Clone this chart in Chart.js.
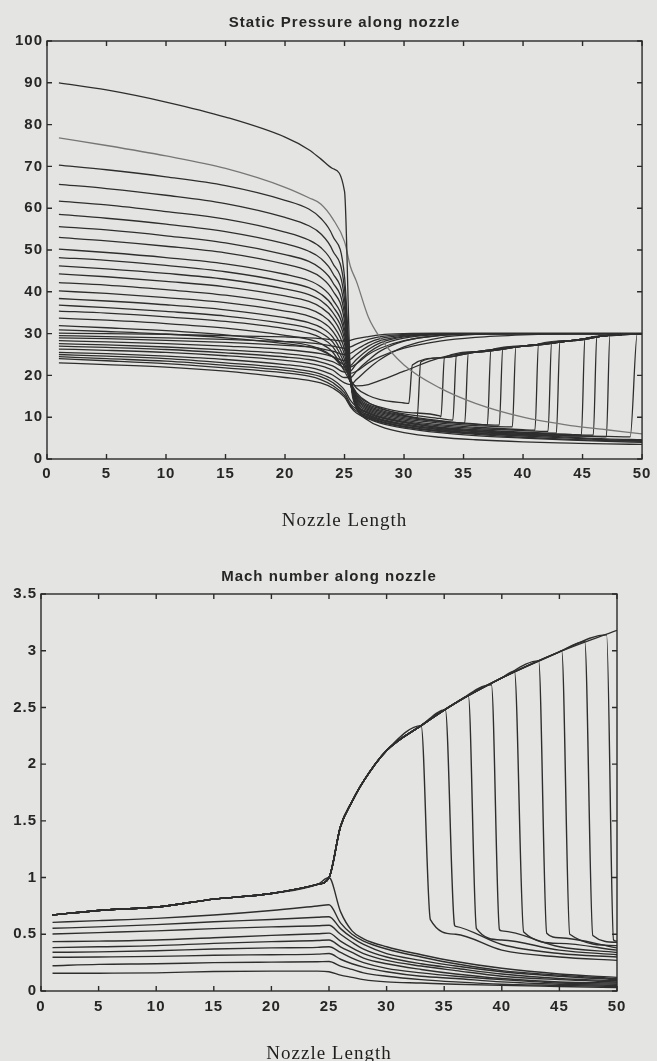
<!DOCTYPE html>
<html>
<head>
<meta charset="utf-8">
<script src="https://cdn.jsdelivr.net/npm/chart.js@4.4.1/dist/chart.umd.min.js"></script>
<style>
html, body { margin: 0; padding: 0; background: #e4e4e2; }
#wrap { position: relative; width: 657px; height: 1061px; overflow: hidden; }
canvas { position: absolute; left: 0; }
</style>
</head>
<body>
<div id="wrap">
	<canvas id="pressureCanvas" width="657" height="540" style="top:0;width:657px;height:540px"></canvas>
	<canvas id="machCanvas" width="657" height="521" style="top:540px;width:657px;height:521px"></canvas>
</div>
<script>
// ---- static pressure chart ----
var pressureX = [1, 5, 10, 15, 20, 22, 23, 24, 25, 25.5, 26, 27, 28, 30, 33, 36, 40, 44, 47, 50];

var p90   = [90, 88.3, 85.4, 81.8, 77, 74, 71.8, 69.5, 64, 20, 12.5, 9.2, 7.8, 6.3, 5.2, 4.6, 4.1, 3.8, 3.6, 3.5];
var p77   = [76.8, 75, 72.5, 69.5, 65, 62.5, 61, 57.5, 52, 46, 42.5, 34, 29, 22.5, 17, 13.3, 10, 8, 7, 6];
var p33_7 = [33.7, 33.2, 32.4, 31.3, 29.6, 28.6, 27.6, 25.6, 21, 18.5, 17.5, 17.8, 18.8, 21, 24.2, 25.6, 27, 28.3, 29.5, 30];
var p31_9 = [31.9, 31.4, 30.7, 29.7, 28.1, 27.2, 26.3, 24.5, 21.5, 20.5, 21, 23, 24.5, 26.5, 28.2, 29.1, 29.7, 30, 30, 30];
var p30_9 = [30.9, 30.5, 29.9, 29, 27.6, 26.8, 26, 24.5, 22.5, 22, 22.8, 25, 26.5, 28.3, 29.5, 29.9, 30, 30, 30, 30];
var p30_1 = [30.1, 30, 29.8, 29.5, 29.2, 29, 28.8, 28.5, 28.2, 28.4, 28.8, 29.3, 29.7, 30, 30.1, 30.1, 30.1, 30.1, 30.1, 30.1];
var p29_5 = [29.5, 29.3, 29, 28.6, 28.1, 27.8, 27.5, 27, 26.5, 26.8, 27.5, 28.6, 29.3, 29.8, 30, 30, 30, 30, 30, 30];
var p29   = [29, 28.8, 28.4, 27.9, 27.2, 26.8, 26.4, 25.8, 25, 25.3, 26.2, 27.8, 28.8, 29.6, 30, 30, 30, 30, 30, 30];
var p28_3 = [28.3, 28, 27.6, 27, 26.2, 25.6, 25.2, 24.5, 23.5, 23.8, 25, 27, 28.3, 29.4, 29.9, 30, 30, 30, 30, 30];
var p27_6 = [27.6, 27.3, 26.8, 26.1, 25.2, 24.6, 24.1, 23.3, 22, 22.3, 23.8, 26.2, 27.8, 29.2, 29.9, 30, 30, 30, 30, 30];
var p27   = [27, 26.7, 26.2, 25.4, 24.4, 23.8, 23.2, 22.3, 20.8, 21, 22.8, 25.4, 27.2, 28.9, 29.8, 30, 30, 30, 30, 30];
var p26_3 = [26.3, 26, 25.5, 24.7, 23.6, 22.9, 22.3, 21.3, 19.5, 19.5, 21, 23.6, 25.8, 28.2, 29.6, 30, 30, 30, 30, 30];
var p25_5 = [25.5, 25.2, 24.6, 23.8, 22.6, 21.9, 21.2, 20.1, 18.2, 17.8, 19, 21.6, 23.8, 26.8, 29, 29.8, 30, 30, 30, 30];
var p25   = [25, 24.6, 24, 23, 21.8, 21, 20.3, 19, 16.5, 14, 12.5, 11, 10, 8.8, 7.5, 6.6, 5.8, 5.2, 4.8, 4.6];
var p24_5 = [24.5, 24, 23.4, 22.4, 21.2, 20.4, 19.7, 18.3, 15.8, 13.2, 12, 10.4, 9.4, 8.2, 7, 6.2, 5.5, 5, 4.6, 4.4];
var p24   = [24, 23.5, 22.8, 21.8, 20.6, 19.8, 19, 17.6, 15.2, 12.8, 11.5, 10, 9, 7.8, 6.6, 5.9, 5.2, 4.7, 4.4, 4.2];
var p23   = [23, 22.6, 22, 21, 19.5, 18.8, 18.2, 17, 14.8, 12.5, 11, 9.6, 8.6, 7.4, 6.3, 5.6, 5, 4.5, 4.2, 4.0];

// curves that end in a shock: values before the shock run along the low branch, after it along the recovery branch
var pShockCurves = [
	[70.3, 69.2, 67.5, 65.4, 61.9, 59.8, 57.6, 53.4, 43.6, 20, 12, 9.8, 8.8, 7.6, 6.6, 6.1, 5.7, 5.5, 5.4, 30],
	[65.7, 64.7, 63.1, 61.1, 57.8, 55.8, 53.9, 49.9, 40.7, 19.5, 12.3, 10, 9, 7.8, 6.8, 6.3, 5.9, 5.6, null, 30],
	[61.7, 60.8, 59.2, 57.4, 54.3, 52.4, 50.6, 46.9, 38.3, 19, 12.6, 10.3, 9.3, 8.1, 7.1, 6.6, 6.1, 5.8, 29.5, 30],
	[58.5, 57.6, 56.2, 54.4, 51.5, 49.7, 48, 44.5, 36.3, 19, 12.9, 10.6, 9.6, 8.4, 7.3, 6.8, 6.2, 5.9, 29.5, 30],
	[55.6, 54.8, 53.4, 51.7, 48.9, 47.3, 45.6, 42.3, 34.5, 18.5, 13.2, 10.9, 9.9, 8.7, 7.6, 7.0, 6.4, 28.3, 29.5, 30],
	[53, 52.2, 50.9, 49.3, 46.6, 45, 43.5, 40.3, 32.9, 18.5, 13.5, 11.2, 10.2, 9.0, 7.9, 7.3, 6.8, 28.3, 29.5, 30],
	[50.2, 49.4, 48.2, 46.7, 44.2, 42.7, 41.2, 38.2, 31.1, 18.5, 13.8, 11.5, 10.5, 9.3, 8.2, 7.6, 7.0, 28.3, 29.5, 30],
	[48.2, 47.5, 46.3, 44.8, 42.4, 41, 39.5, 36.6, 29.9, 18.5, 14.1, 11.8, 10.8, 9.6, 8.6, 8.0, 27.0, 28.3, 29.5, 30],
	[46.2, 45.5, 44.4, 43, 40.7, 39.3, 37.9, 35.1, 28.6, 18.5, 14.4, 12.1, 11.1, 9.9, 8.9, 8.3, 27.0, 28.3, 29.5, 30],
	[44.3, 43.6, 42.5, 41.2, 39, 37.7, 36.3, 33.7, 27.5, 18.5, 14.7, 12.4, 11.4, 10.2, 9.0, 8.4, 27.0, 28.3, 29.5, 30],
	[42.2, 41.6, 40.5, 39.2, 37.1, 35.9, 34.6, 32.1, 26.2, 18.5, 15, 12.7, 11.7, 10.4, 9.2, 25.6, 27.0, 28.3, 29.5, 30],
	[40.2, 39.6, 38.6, 37.4, 35.4, 34.2, 33, 30.6, 25, 18.5, 15.3, 13, 12, 10.8, 9.7, 25.6, 27.0, 28.3, 29.5, 30],
	[38.4, 37.8, 36.9, 35.7, 33.8, 32.6, 31.5, 29.2, 23.8, 18.5, 15.6, 13.4, 12.4, 11.2, 10.3, 25.6, 27.0, 28.3, 29.5, 30],
	[36.8, 36.2, 35.3, 34.2, 32.4, 31.3, 30.2, 28, 22.8, 18.5, 15.9, 13.5, 12.2, 10.5, 24.2, 25.6, 27.0, 28.3, 29.5, 30],
	[35.4, 34.9, 34, 32.9, 31.2, 30.1, 29, 26.9, 22, 19, 17, 15.2, 14.2, 13.4, 24.2, 25.6, 27.0, 28.3, 29.5, 30]
];
var pShockLowX = [49.0, 47.0, 45.9, 44.9, 42.8, 42.1, 41.0, 39.1, 38.0, 37.0, 35.1, 34.1, 33.1, 31.1, 30.4];
var pShockLowY = [5.3, 5.3, 5.7, 5.7, 6.2, 6.6, 6.9, 7.7, 8.1, 8.1, 8.6, 9.3, 10.1, 9.8, 13.3];
var pShockTopX = [49.6, 47.3, 46.2, 45.2, 43.1, 42.4, 41.3, 39.4, 38.3, 37.3, 35.4, 34.4, 33.4, 31.4, 30.7];
var pShockTopY = [30.0, 29.6, 29.1, 28.7, 28.0, 27.8, 27.5, 26.9, 26.5, 26.1, 25.3, 24.8, 24.3, 23.2, 22.5];

// ---- mach number chart ----
var machX = [1, 5, 10, 15, 20, 24, 25, 26, 27, 28, 30, 33, 36, 40, 45, 50];

var mSupersonic = [0.67, 0.71, 0.74, 0.81, 0.86, 0.94, 1.0, 1.45, 1.67, 1.85, 2.12, 2.34, 2.54, 2.76, 2.99, 3.18];
var mChokedSub  = [0.67, 0.71, 0.74, 0.81, 0.86, 0.94, 1.0, 0.70, 0.53, 0.46, 0.39, 0.32, 0.26, 0.20, 0.15, 0.12];

var mSubsonic = [
	[0.605, 0.62, 0.64, 0.67, 0.71, 0.75, 0.76, 0.60, 0.50, 0.44, 0.37, 0.30, 0.24, 0.18, 0.14, 0.11],
	[0.553, 0.565, 0.585, 0.61, 0.63, 0.65, 0.655, 0.55, 0.47, 0.41, 0.33, 0.27, 0.22, 0.17, 0.13, 0.10],
	[0.503, 0.515, 0.53, 0.55, 0.565, 0.575, 0.58, 0.50, 0.43, 0.37, 0.30, 0.24, 0.20, 0.15, 0.11, 0.09],
	[0.435, 0.44, 0.45, 0.47, 0.49, 0.505, 0.51, 0.44, 0.38, 0.33, 0.27, 0.22, 0.18, 0.13, 0.10, 0.08],
	[0.382, 0.39, 0.40, 0.42, 0.435, 0.445, 0.45, 0.39, 0.34, 0.29, 0.24, 0.19, 0.15, 0.11, 0.08, 0.07],
	[0.341, 0.345, 0.355, 0.37, 0.38, 0.385, 0.39, 0.34, 0.29, 0.25, 0.20, 0.16, 0.13, 0.10, 0.07, 0.06],
	[0.297, 0.30, 0.305, 0.315, 0.32, 0.325, 0.33, 0.28, 0.24, 0.21, 0.17, 0.13, 0.11, 0.08, 0.06, 0.05],
	[0.223, 0.235, 0.24, 0.25, 0.255, 0.258, 0.26, 0.22, 0.19, 0.16, 0.13, 0.10, 0.08, 0.06, 0.05, 0.04],
	[0.156, 0.157, 0.16, 0.172, 0.175, 0.175, 0.17, 0.14, 0.12, 0.10, 0.08, 0.07, 0.06, 0.05, 0.04, 0.03]
];

var mShockCurves = [
	[0.67, 0.71, 0.74, 0.81, 0.86, 0.94, 1.0, 1.45, 1.67, 1.85, 2.12, null, 0.50, 0.36, 0.30, 0.27],
	[0.67, 0.71, 0.74, 0.81, 0.86, 0.94, 1.0, 1.45, 1.67, 1.85, 2.12, 2.34, 0.57, 0.41, 0.33, 0.30],
	[0.67, 0.71, 0.74, 0.81, 0.86, 0.94, 1.0, 1.45, 1.67, 1.85, 2.12, 2.34, 2.54, 0.45, 0.36, 0.32],
	[0.67, 0.71, 0.74, 0.81, 0.86, 0.94, 1.0, 1.45, 1.67, 1.85, 2.12, 2.34, 2.54, 0.53, 0.39, 0.34],
	[0.67, 0.71, 0.74, 0.81, 0.86, 0.94, 1.0, 1.45, 1.67, 1.85, 2.12, 2.34, 2.54, 2.76, 0.42, 0.36],
	[0.67, 0.71, 0.74, 0.81, 0.86, 0.94, 1.0, 1.45, 1.67, 1.85, 2.12, 2.34, 2.54, 2.76, 0.47, 0.38],
	[0.67, 0.71, 0.74, 0.81, 0.86, 0.94, 1.0, 1.45, 1.67, 1.85, 2.12, 2.34, 2.54, 2.76, 2.99, 0.40],
	[0.67, 0.71, 0.74, 0.81, 0.86, 0.94, 1.0, 1.45, 1.67, 1.85, 2.12, 2.34, 2.54, 2.76, 2.99, 0.43],
	[0.67, 0.71, 0.74, 0.81, 0.86, 0.94, 1.0, 1.45, 1.67, 1.85, 2.12, 2.34, 2.54, 2.76, 2.99, 0.44]
];
var mShockTopX = [33.0, 35.1, 37.1, 39.1, 41.1, 43.2, 45.2, 47.2, 49.1];
var mShockTopY = [2.34, 2.48, 2.60, 2.70, 2.82, 2.91, 3.00, 3.08, 3.14];
var mShockLowX = [33.8, 35.9, 37.8, 39.8, 41.9, 43.9, 45.9, 47.9, 49.7];
var mShockLowY = [0.63, 0.58, 0.55, 0.54, 0.52, 0.51, 0.50, 0.49, 0.45];


var lineColor = '#2e2e2e';
var textColor = '#262626';

function points(xs, ys) {
	var out = [];
	for (var i = 0; i < xs.length; i++) {
		if (ys[i] !== null) out.push({x: xs[i], y: ys[i]});
	}
	return out;
}

function shockPoints(xs, ys, x1, y1, x2, y2) {
	var out = points(xs, ys);
	out.push({x: x1, y: y1});
	out.push({x: x2, y: y2});
	out.sort(function(a, b) { return a.x - b.x; });
	return out;
}

function lineSet(data, color, width) {
	return {
		data: data,
		borderColor: color || lineColor,
		borderWidth: width || 1.3,
		pointRadius: 0,
		fill: false,
		cubicInterpolationMode: 'monotone'
	};
}

// inward ticks on all four sides plus the frame
var boxTicks = {
	id: 'boxTicks',
	afterDatasetsDraw: function(chart) {
		var ctx = chart.ctx, a = chart.chartArea;
		var sx = chart.scales.x, sy = chart.scales.y;
		ctx.save();
		ctx.strokeStyle = '#2a2a2a';
		ctx.lineWidth = 1.4;
		ctx.strokeRect(a.left, a.top, a.right - a.left, a.bottom - a.top);
		ctx.beginPath();
		sx.ticks.forEach(function(t) {
			var px = sx.getPixelForValue(t.value);
			ctx.moveTo(px, a.bottom); ctx.lineTo(px, a.bottom - 5);
			ctx.moveTo(px, a.top); ctx.lineTo(px, a.top + 5);
		});
		sy.ticks.forEach(function(t) {
			var py = sy.getPixelForValue(t.value);
			ctx.moveTo(a.left, py); ctx.lineTo(a.left + 5, py);
			ctx.moveTo(a.right, py); ctx.lineTo(a.right - 5, py);
		});
		ctx.stroke();
		ctx.restore();
	}
};

// the scanned labels are widely tracked
var tracking = {
	id: 'tracking',
	beforeLayout: function(chart) { chart.ctx.letterSpacing = '1px'; },
	beforeDraw: function(chart) { chart.ctx.letterSpacing = '1px'; }
};

function plainLabel(value) {
	return '' + value;
}

function makeChart(canvasId, datasets, cfg) {
	var ctx = document.getElementById(canvasId).getContext('2d');
	return new Chart(ctx, {
		type: 'line',
		data: { datasets: datasets },
		plugins: [tracking, boxTicks],
		options: {
			responsive: false,
			animation: false,
			devicePixelRatio: 1,
			layout: { padding: cfg.padding },
			plugins: {
				legend: { display: false },
				tooltip: { enabled: false },
				title: {
					display: true,
					fullSize: false,
					text: cfg.title,
					color: textColor,
					font: { family: 'Liberation Sans', size: 15, weight: 'bold' },
					padding: cfg.titlePadding
				}
			},
			scales: {
				x: {
					type: 'linear',
					min: 0, max: 50,
					grid: { display: false, drawTicks: false },
					border: { display: false },
					ticks: {
						stepSize: 5,
						padding: cfg.xTickPadding,
						color: textColor,
						font: { family: 'Liberation Sans', size: 15, weight: 'bold' },
						callback: plainLabel
					},
					title: {
						display: true,
						text: 'Nozzle Length',
						color: '#1e1e1e',
						font: { family: 'Liberation Serif', size: 19, lineHeight: 1 },
						padding: { top: 0, bottom: cfg.xTitlePadding }
					},
					afterFit: function(s) { s.height = cfg.xHeight; }
				},
				y: {
					type: 'linear',
					min: cfg.yMin, max: cfg.yMax,
					grid: { display: false, drawTicks: false },
					border: { display: false },
					ticks: {
						stepSize: cfg.yStep,
						padding: 4,
						color: textColor,
						font: { family: 'Liberation Sans', size: 15, weight: 'bold' },
						callback: plainLabel
					},
					afterFit: function(s) { s.width = cfg.yWidth; }
				}
			}
		}
	});
}

function drawAll() {
	var pSets = [];
	pSets.push(lineSet(points(pressureX, p90)));
	pSets.push(lineSet(points(pressureX, p77), '#777777'));
	for (var i = 0; i < pShockCurves.length; i++) {
		pSets.push(lineSet(shockPoints(pressureX, pShockCurves[i], pShockLowX[i], pShockLowY[i], pShockTopX[i], pShockTopY[i])));
	}
	[p33_7, p31_9, p30_9, p30_1, p29_5, p29, p28_3, p27_6, p27, p26_3, p25_5, p25, p24_5, p24, p23].forEach(function(ys) {
		pSets.push(lineSet(points(pressureX, ys)));
	});

	makeChart('pressureCanvas', pSets, {
		title: 'Static Pressure along nozzle',
		padding: { left: 0, right: 7, top: 0, bottom: 0 },
		titlePadding: { top: 13.5, bottom: 9.5 },
		xTickPadding: 5.6,
		xTitlePadding: 9.5,
		xHeight: 81,
		yWidth: 47,
		yMin: 0, yMax: 100, yStep: 10
	});

	var mSets = [];
	mSets.push(lineSet(points(machX, mSupersonic), null, 1.4));
	mSets.push(lineSet(points(machX, mChokedSub), null, 1.4));
	for (var j = 0; j < mShockCurves.length; j++) {
		mSets.push(lineSet(shockPoints(machX, mShockCurves[j], mShockTopX[j], mShockTopY[j], mShockLowX[j], mShockLowY[j]), null, 1.4));
	}
	mSubsonic.forEach(function(ys) {
		mSets.push(lineSet(points(machX, ys), null, 1.4));
	});

	makeChart('machCanvas', mSets, {
		title: 'Mach number along nozzle',
		padding: { left: 0, right: 40, top: 0, bottom: -3 },
		titlePadding: { top: 27.5, bottom: 8.5 },
		xTickPadding: 6.6,
		xTitlePadding: 0,
		xHeight: 73,
		yWidth: 41,
		yMin: 0, yMax: 3.5, yStep: 0.5
	});
}

drawAll();
</script>
</body>
</html>
